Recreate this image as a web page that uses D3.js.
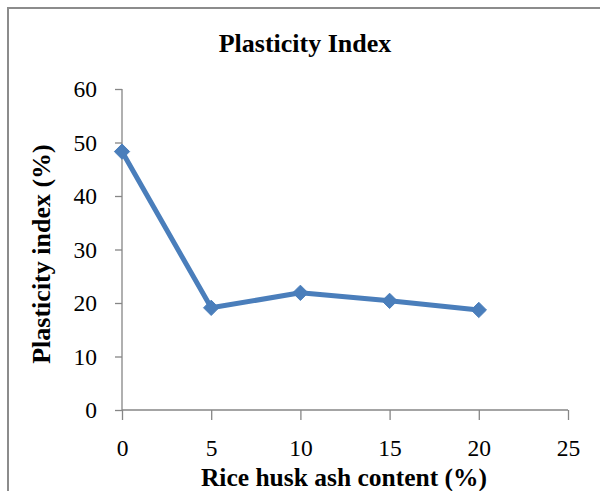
<!DOCTYPE html>
<html><head><meta charset="utf-8">
<script src="https://cdn.jsdelivr.net/npm/d3@7"></script>
<style>body{margin:0;background:#fff}svg{display:block}</style>
</head><body>
<script>
const xValues = [0, 5, 10, 15, 20];
const plasticityIndex = [48.3, 19.1, 21.9, 20.4, 18.7];
const xTicks = [0, 5, 10, 15, 20, 25];
const yTicks = [0, 10, 20, 30, 40, 50, 60];
const chartTitle = "Plasticity Index";
const xTitle = "Rice husk ash content (%)";
const yTitle = "Plasticity index (%)";

const W = 600, H = 491;
const svg = d3.select("body").append("svg").attr("width", W).attr("height", H);
svg.append("rect").attr("width", W).attr("height", H).attr("fill", "#fff");
svg.append("path").attr("d", "M8,491 V8 H600").attr("fill", "none").attr("stroke", "#8c8c8c").attr("stroke-width", 2);

const x = d3.scaleLinear().domain([0, 25]).range([122, 568]);
const y = d3.scaleLinear().domain([0, 60]).range([410, 89]);
const font = "'Liberation Serif', 'Times New Roman', serif";

const xAxis = svg.append("g").attr("transform", "translate(0,410)")
  .call(d3.axisBottom(x).tickValues(xTicks).tickSize(10).tickPadding(19).tickFormat(d3.format("d")));
const yAxis = svg.append("g").attr("transform", "translate(122,0)")
  .call(d3.axisLeft(y).tickValues(yTicks).tickSize(7).tickPadding(18).tickFormat(d3.format("d")));
[xAxis, yAxis].forEach(g => {
  g.select(".domain").attr("stroke", "#868686").attr("stroke-width", 1.3);
  g.selectAll(".tick line").attr("stroke", "#868686").attr("stroke-width", 1.3);
  g.selectAll("text").attr("font-family", font).attr("font-size", 23.5).attr("fill", "#000");
});
xAxis.select(".domain").attr("d", "M122,0H568");
yAxis.select(".domain").attr("d", "M0,410V89");

const line = d3.line().x((d, i) => x(xValues[i])).y(d => y(d));
svg.append("path").datum(plasticityIndex).attr("d", line)
  .attr("fill", "none").attr("stroke", "#4a7ebb").attr("stroke-width", 5).attr("stroke-linejoin", "round");
svg.selectAll(".mk").data(plasticityIndex).enter().append("path")
  .attr("transform", (d, i) => `translate(${x(xValues[i])},${y(d)})`)
  .attr("d", d3.symbol(d3.symbolDiamond2, 150)())
  .attr("fill", "#4a7ebb").attr("stroke", "#4a7ebb").attr("stroke-width", 1);

svg.append("text").attr("x", 305).attr("y", 52).attr("text-anchor", "middle")
  .attr("font-family", font).attr("font-weight", "bold").attr("font-size", 26).text(chartTitle);
svg.append("text").attr("x", 344).attr("y", 486).attr("text-anchor", "middle")
  .attr("font-family", font).attr("font-weight", "bold").attr("font-size", 25.5).text(xTitle);
svg.append("text").attr("transform", "translate(50,254) rotate(-90)").attr("text-anchor", "middle")
  .attr("font-family", font).attr("font-weight", "bold").attr("font-size", 26).text(yTitle);
</script>
</body></html>
